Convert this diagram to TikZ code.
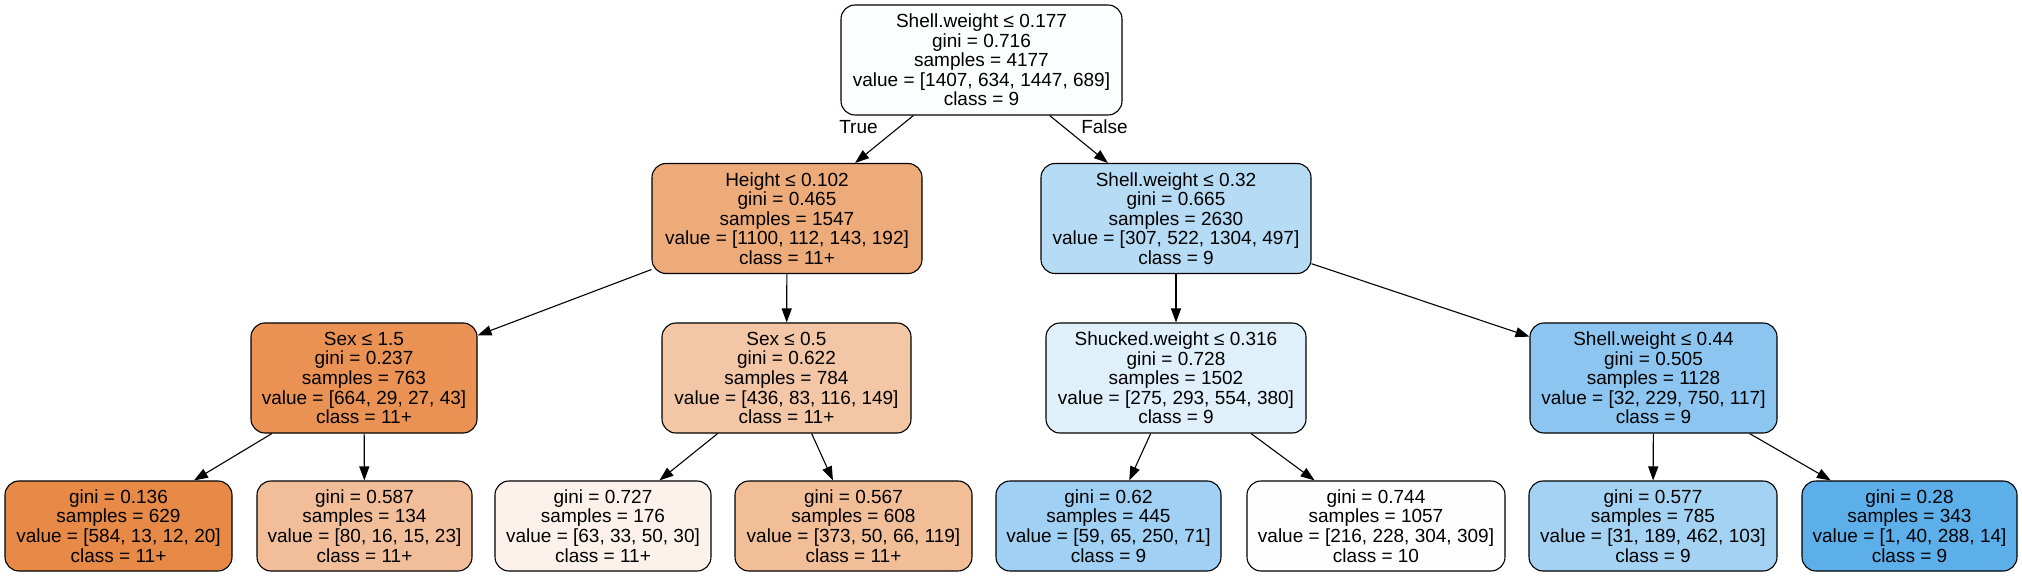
\documentclass[tikz,border=0pt]{standalone}
\usepackage{fontspec}
\setmainfont{Liberation Sans}
\usetikzlibrary{arrows.meta}
\definecolor{croot}{RGB}{252,254,255}
\definecolor{cheight}{RGB}{238,171,122}
\definecolor{cswa}{RGB}{182,219,245}
\definecolor{csexa}{RGB}{233,146,84}
\definecolor{csexb}{RGB}{243,198,166}
\definecolor{cshuck}{RGB}{224,240,251}
\definecolor{cswb}{RGB}{140,198,240}
\definecolor{cla}{RGB}{231,138,72}
\definecolor{clb}{RGB}{242,190,153}
\definecolor{clc}{RGB}{252,242,235}
\definecolor{cld}{RGB}{242,190,152}
\definecolor{cle}{RGB}{160,208,243}
\definecolor{clf}{RGB}{254,254,255}
\definecolor{clg}{RGB}{164,210,243}
\definecolor{clh}{RGB}{93,175,234}
\begin{document}
\begin{tikzpicture}[x=1pt,y=-1pt,
  box/.style={draw=black, line width=1.1pt, rounded corners=14pt, align=center,
    inner sep=0pt, font=\fontsize{19}{19.6}\selectfont},
  inner/.style={box, minimum height=110pt},
  leaf/.style={box, minimum height=90pt},
  edge/.style={draw=black, line width=1.1pt, -{Triangle[length=14pt,width=10pt]}},
  lbl/.style={font=\fontsize{19}{19.6}\selectfont, inner sep=0pt}]
\useasboundingbox (0,0) rectangle (2022,577);
\node[inner, fill=croot, minimum width=281pt] (root) at (981.5,60)
  {Shell.weight ≤ 0.177\\gini = 0.716\\samples = 4177\\value = [1407, 634, 1447, 689]\\class = 9};
\node[inner, fill=cheight, minimum width=270pt] (height) at (787,218.5)
  {Height ≤ 0.102\\gini = 0.465\\samples = 1547\\value = [1100, 112, 143, 192]\\class = 11+};
\node[inner, fill=cswa, minimum width=270pt] (swa) at (1176,218.5)
  {Shell.weight ≤ 0.32\\gini = 0.665\\samples = 2630\\value = [307, 522, 1304, 497]\\class = 9};
\node[inner, fill=csexa, minimum width=226pt] (sexa) at (364,378)
  {Sex ≤ 1.5\\gini = 0.237\\samples = 763\\value = [664, 29, 27, 43]\\class = 11+};
\node[inner, fill=csexb, minimum width=249pt] (sexb) at (786.5,378)
  {Sex ≤ 0.5\\gini = 0.622\\samples = 784\\value = [436, 83, 116, 149]\\class = 11+};
\node[inner, fill=cshuck, minimum width=260pt] (shuck) at (1176,378)
  {Shucked.weight ≤ 0.316\\gini = 0.728\\samples = 1502\\value = [275, 293, 554, 380]\\class = 9};
\node[inner, fill=cswb, minimum width=247pt] (swb) at (1653.5,378)
  {Shell.weight ≤ 0.44\\gini = 0.505\\samples = 1128\\value = [32, 229, 750, 117]\\class = 9};
\node[leaf, fill=cla, minimum width=227pt] (la) at (118.5,526)
  {gini = 0.136\\samples = 629\\value = [584, 13, 12, 20]\\class = 11+};
\node[leaf, fill=clb, minimum width=215pt] (lb) at (364.5,526)
  {gini = 0.587\\samples = 134\\value = [80, 16, 15, 23]\\class = 11+};
\node[leaf, fill=clc, minimum width=216pt] (lc) at (603,526)
  {gini = 0.727\\samples = 176\\value = [63, 33, 50, 30]\\class = 11+};
\node[leaf, fill=cld, minimum width=237pt] (ld) at (853.5,526)
  {gini = 0.567\\samples = 608\\value = [373, 50, 66, 119]\\class = 11+};
\node[leaf, fill=cle, minimum width=225pt] (le) at (1108.5,526)
  {gini = 0.62\\samples = 445\\value = [59, 65, 250, 71]\\class = 9};
\node[leaf, fill=clf, minimum width=258pt] (lf) at (1376,526)
  {gini = 0.744\\samples = 1057\\value = [216, 228, 304, 309]\\class = 10};
\node[leaf, fill=clg, minimum width=248pt] (lg) at (1653,526)
  {gini = 0.577\\samples = 785\\value = [31, 189, 462, 103]\\class = 9};
\node[leaf, fill=clh, minimum width=215pt] (lh) at (1909.5,526)
  {gini = 0.28\\samples = 343\\value = [1, 40, 288, 14]\\class = 9};
\draw[edge] (root) -- (height);
\draw[edge] (root) -- (swa);
\draw[edge] (height) -- (sexa);
\draw[edge] (height) -- (sexb);
\draw[edge] (swa) -- (shuck);
\draw[edge] (swa) -- (swb);
\draw[edge] (sexa) -- (la);
\draw[edge] (sexa) -- (lb);
\draw[edge] (sexb) -- (lc);
\draw[edge] (sexb) -- (ld);
\draw[edge] (shuck) -- (le);
\draw[edge] (shuck) -- (lf);
\draw[edge] (swb) -- (lg);
\draw[edge] (swb) -- (lh);
\node[lbl] (tlab) at (858.5,127) {True};
\node[lbl] (flab) at (1104.5,127) {False};
\end{tikzpicture}
\end{document}
